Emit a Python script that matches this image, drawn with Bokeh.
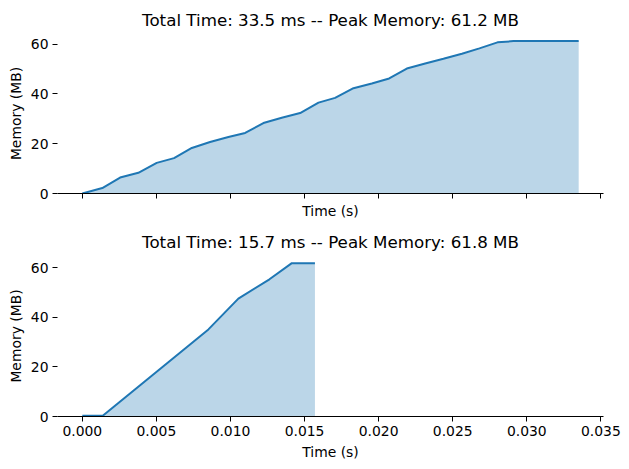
from bokeh.plotting import figure
from bokeh.layouts import column
from bokeh.models import Range1d, FixedTicker, PrintfTickFormatter, CustomJSTickFormatter, ColumnDataSource
from bokeh.embed import file_html
from bokeh.resources import INLINE

# ---- data ----
time_a = [0.0, 0.00135, 0.00255, 0.00378, 0.00502, 0.00619, 0.00739, 0.00862,
          0.00986, 0.01099, 0.01222, 0.01346, 0.01470, 0.01594, 0.01706, 0.01830,
          0.01954, 0.02071, 0.02190, 0.02314, 0.02437, 0.02562, 0.02680, 0.02802,
          0.02910, 0.03350]
mem_a = [0.0, 2.2, 6.4, 8.3, 12.3, 14.2, 18.3, 20.7, 22.7, 24.3, 28.3, 30.4,
         32.3, 36.5, 38.4, 42.3, 44.2, 46.2, 50.2, 52.2, 54.1, 56.1, 58.3, 60.7,
         61.2, 61.2]
title_a = "Total Time: 33.5 ms -- Peak Memory: 61.2 MB"

time_b = [0.0, 0.00138, 0.00851, 0.01053, 0.01263, 0.01414, 0.01570]
mem_b = [0.3, 0.3, 35.1, 47.5, 55.3, 61.8, 61.8]
title_b = "Total Time: 15.7 ms -- Peak Memory: 61.8 MB"

x_ticks = [0.0, 0.005, 0.010, 0.015, 0.020, 0.025, 0.030, 0.035]
y_ticks = [0, 20, 40, 60]

COLOR = "#1f77b4"
FONT = "DejaVu Sans"

xmax = max(max(time_a), max(time_b))
xpad = 0.05 * xmax
x_range = Range1d(-xpad, xmax + xpad)


def make(times, mems, title, height, show_xlabels, min_bottom):
    p = figure(width=629, height=height, output_backend="svg", toolbar_location=None,
               x_range=x_range, y_range=Range1d(0, max(mems) * 1.05),
               min_border_left=57, min_border_right=26, min_border_top=33,
               min_border_bottom=min_bottom)
    src = ColumnDataSource(dict(t=times, m=mems))
    p.varea(x="t", y1=0, y2="m", source=src, fill_color=COLOR, fill_alpha=0.3)
    p.line(x="t", y="m", source=src, line_color=COLOR, line_width=2)

    p.title.text = title
    p.title.text_font = FONT
    p.title.text_font_size = "16.7px"
    p.title.text_font_style = "normal"
    p.title.text_color = "black"
    p.title.align = "center"
    p.title.standoff = 8

    p.outline_line_color = None
    p.grid.grid_line_color = None
    p.background_fill_color = "white"
    p.border_fill_color = "white"

    xa = p.xaxis[0]
    xa.ticker = FixedTicker(ticks=x_ticks)
    if show_xlabels:
        xa.formatter = PrintfTickFormatter(format="%.3f")
    else:
        xa.formatter = CustomJSTickFormatter(code="return ''")
    xa.axis_label = "Time (s)"
    xa.axis_label_text_font = FONT
    xa.axis_label_text_font_size = "13.9px"
    xa.axis_label_text_font_style = "normal"
    xa.axis_label_text_color = "black"
    xa.major_label_text_font = FONT
    xa.major_label_text_font_size = "13.9px"
    xa.major_label_text_color = "black"
    xa.axis_line_color = "black"
    xa.axis_line_width = 1
    xa.major_tick_line_color = "black"
    xa.major_tick_line_width = 1
    xa.major_tick_out = 5
    xa.major_tick_in = 0
    xa.minor_tick_line_color = None
    xa.major_label_standoff = 4 if show_xlabels else 0
    xa.axis_label_standoff = 5 if show_xlabels else 4

    ya = p.yaxis[0]
    ya.ticker = FixedTicker(ticks=y_ticks)
    ya.axis_label = "Memory (MB)"
    ya.axis_label_text_font = FONT
    ya.axis_label_text_font_size = "13.9px"
    ya.axis_label_text_font_style = "normal"
    ya.axis_label_text_color = "black"
    ya.major_label_text_font = FONT
    ya.major_label_text_font_size = "13.9px"
    ya.major_label_text_color = "black"
    ya.axis_line_color = None
    ya.major_tick_line_color = "black"
    ya.major_tick_line_width = 1
    ya.major_tick_out = 5
    ya.major_tick_in = 0
    ya.minor_tick_line_color = None
    ya.major_label_standoff = 4
    ya.axis_label_standoff = 4
    return p


p1 = make(time_a, mem_a, title_a, 222, False, 29)
p2 = make(time_b, mem_b, title_b, 247, True, 53)

layout = column(p1, p2, spacing=0)
open("out.html", "w").write(file_html(layout, INLINE))
